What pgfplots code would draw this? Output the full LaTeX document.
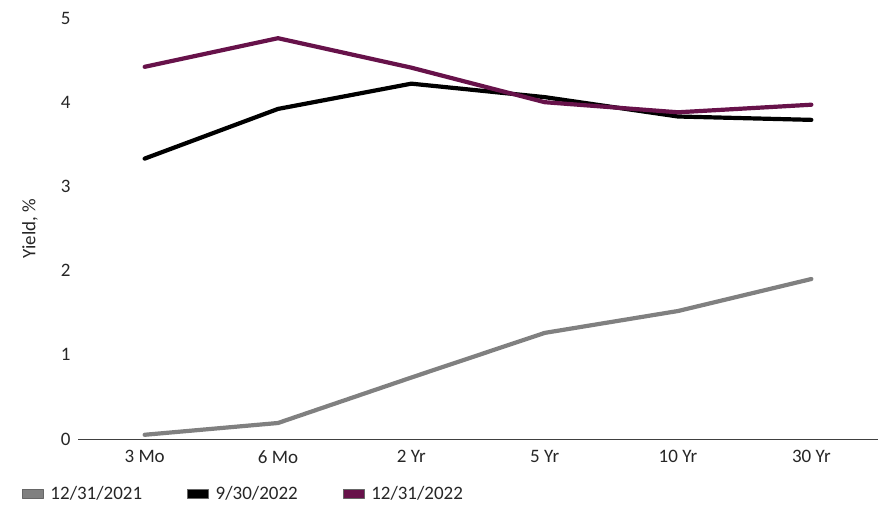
\documentclass[border=0pt]{standalone}
\usepackage{pgfplots}
\pgfplotsset{compat=1.18}
\usepackage{fontspec}
\setmainfont{Carlito}
\definecolor{cgray}{RGB}{128,128,128}
\definecolor{cpurple}{RGB}{103,18,74}
\begin{document}
\begin{tikzpicture}[x=1bp,y=1bp]
\path (0,0) rectangle (880,507);
\begin{axis}[
  at={(78bp,68bp)}, anchor=south west,
  scale only axis, width=800bp, height=421bp,
  xmin=-0.5, xmax=5.5, ymin=0, ymax=5,
  axis x line*=bottom, axis y line*=left,
  y axis line style={draw=none},
  xtick={0,...,5}, xticklabels={3 Mo,6 Mo,2 Yr,5 Yr,10 Yr,30 Yr},
  ytick={0,...,5},
  major tick length=0pt,
  x axis line style={draw=black!75, line width=0.8bp, -},
  font=\fontsize{19bp}{22bp}\selectfont,
  tick label style={font=\fontsize{19bp}{22bp}\selectfont, text=black!85},
  /pgf/number format/assume math mode=true,
  xticklabel style={yshift=-8bp},
  yticklabel style={xshift=-4bp},
  ylabel={Yield, \%},
  every axis y label/.style={at={(rel axis cs:0,0.5)}, xshift=-48bp, rotate=90, anchor=center, font=\fontsize{19bp}{22bp}\selectfont, text=black!85},
  legend columns=3,
  legend style={at={(rel axis cs:-0.07,-0.131)}, anchor=west, draw=none, fill=none,
    font=\fontsize{19bp}{22bp}\selectfont, text=black!85,
    /tikz/every even column/.append style={column sep=43bp},
    /tikz/every odd column/.append style={column sep=5bp},
    inner sep=0pt, outer sep=0pt},
  legend image code/.code={\draw[#1, fill, line width=0.5bp, draw=black!60] (0bp,-4bp) rectangle (21bp,5bp);},
  every axis plot/.append style={line width=4.2bp, line cap=round, line join=round},
  clip=false,
]
\addplot[color=cgray] coordinates {(0,0.05) (1,0.19) (2,0.73) (3,1.26) (4,1.52) (5,1.90)};
\addlegendentry{12/31/2021}
\addplot[color=black] coordinates {(0,3.33) (1,3.92) (2,4.22) (3,4.06) (4,3.83) (5,3.79)};
\addlegendentry{9/30/2022}
\addplot[color=cpurple] coordinates {(0,4.42) (1,4.76) (2,4.41) (3,4.00) (4,3.88) (5,3.97)};
\addlegendentry{12/31/2022}
\end{axis}
\end{tikzpicture}
\end{document}
